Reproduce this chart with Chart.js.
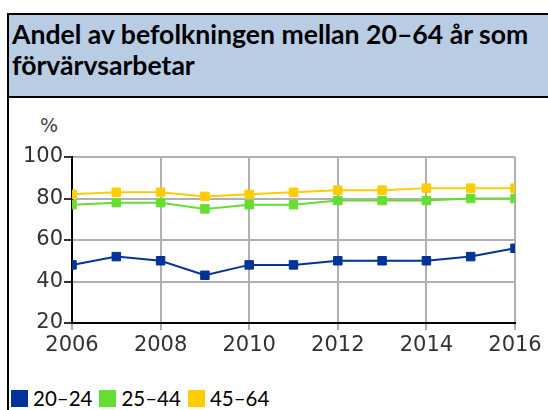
<!DOCTYPE html>
<html>
<head>
<meta charset="utf-8">
<script src="https://cdn.jsdelivr.net/npm/chart.js@4"></script>
<style>
    body { margin: 0; width: 548px; height: 410px; overflow: hidden; background: #fff; position: relative; font-family: Lato, "Open Sans", sans-serif; }
    #head { position: absolute; left: 7px; top: 13px; width: 600px; height: 85px; box-sizing: border-box; border: 2px solid #000; background: #b8cce4; }
    #title { position: absolute; left: 3px; top: 4px; margin: 0; font-weight: bold; font-size: 26.6px; line-height: 31px; color: #000; white-space: nowrap; }
    #side { position: absolute; left: 7px; top: 96px; width: 2px; height: 320px; background: #000; }
    #pct { position: absolute; left: 40px; top: 114px; font: 19px "DejaVu Sans", sans-serif; color: #444; }
    #wrap { position: absolute; left: 10px; top: 100px; width: 538px; height: 280px; }
    #legend { position: absolute; left: 11px; top: 387px; font-size: 20.5px; line-height: 22px; color: #000; display: flex; white-space: nowrap; }
    #legend .item { display: flex; align-items: center; margin-right: 7px; }
    #legend .box { width: 17px; height: 17px; margin-right: 5px; }
</style>
</head>
<body>
<div id="head"><div id="title">Andel av befolkningen mellan 20–64 år som<br>förvärvsarbetar</div></div>
<div id="side"></div>
<div id="pct">%</div>
<div id="wrap"><canvas id="chart"></canvas></div>
<div id="legend"></div>
<script>
// data läst från bilden
const years = [2006, 2007, 2008, 2009, 2010, 2011, 2012, 2013, 2014, 2015, 2016];
const age2024 = [48, 52, 50, 43, 48, 48, 50, 50, 50, 52, 56];
const age2544 = [77, 78, 78, 75, 77, 77, 79, 79, 79, 80, 80];
const age4564 = [82, 83, 83, 81, 82, 83, 84, 84, 85, 85, 85];

const seriesLabels = ["20–24", "25–44", "45–64"];
const seriesColors = ["#003399", "#66dd33", "#ffcc00"];

const xTicks = [2006, 2008, 2010, 2012, 2014, 2016];
const yTicks = [20, 40, 60, 80, 100];

const allSeries = [age2024, age2544, age4564];

// legend i HTML
const legend = document.getElementById("legend");
seriesLabels.forEach((label, i) => {
    const item = document.createElement("div");
    item.className = "item";
    item.innerHTML = '<span class="box" style="background:' + seriesColors[i] + '"></span>' + label;
    legend.appendChild(item);
});

const tickFont = { family: "DejaVu Sans", size: 21 };

new Chart(document.getElementById("chart"), {
    type: "line",
    data: {
        datasets: allSeries.map((values, i) => ({
            label: seriesLabels[i],
            data: values.map((v, j) => ({ x: years[j], y: v })),
            borderColor: seriesColors[i],
            backgroundColor: seriesColors[i],
            borderWidth: 2,
            pointStyle: "rect",
            pointRadius: 6,
            pointBorderWidth: 1,
            tension: 0,
            clip: 0
        })).reverse()
    },
    options: {
        animation: false,
        responsive: true,
        maintainAspectRatio: false,
        layout: { padding: { top: 57, right: 33, bottom: 17, left: 0 } },
        plugins: { legend: { display: false }, tooltip: { enabled: false } },
        scales: {
            x: {
                type: "linear",
                min: 2006,
                max: 2016,
                afterBuildTicks: s => { s.ticks = xTicks.map(v => ({ value: v })); },
                afterFit: s => { s.height = 40; },
                ticks: { font: tickFont, color: "#333", padding: 3, callback: v => String(v) },
                grid: { color: "#b0b0b0", lineWidth: 2, tickLength: 7, tickColor: "#b0b0b0" },
                border: { color: "#000", width: 2 }
            },
            y: {
                min: 20,
                max: 100,
                afterBuildTicks: s => { s.ticks = yTicks.map(v => ({ value: v })); },
                afterFit: s => { s.width = 62; },
                ticks: { font: tickFont, color: "#333", padding: 1 },
                grid: { color: "#b0b0b0", lineWidth: 2, tickLength: 8, tickColor: "#333" },
                border: { color: "#000", width: 2 }
            }
        }
    }
});
</script>
</body>
</html>
